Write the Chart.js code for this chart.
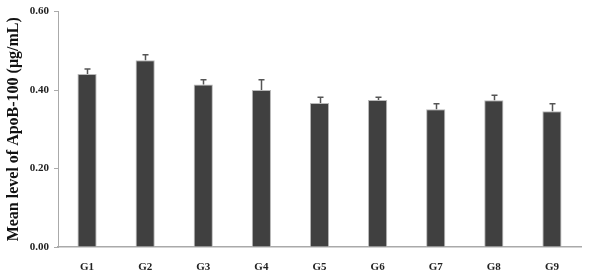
<!DOCTYPE html>
<html>
<head>
<meta charset="utf-8">
<script src="https://cdn.jsdelivr.net/npm/chart.js@4/dist/chart.umd.min.js"></script>
<style>
  html, body { margin: 0; padding: 0; background: #fff; }
  #wrap { width: 594px; height: 275px; }
</style>
</head>
<body>
<div id="wrap"><canvas id="myChart"></canvas></div>
<script>
var groups = ["G1", "G2", "G3", "G4", "G5", "G6", "G7", "G8", "G9"]
var meanLevel = [0.441, 0.476, 0.414, 0.400, 0.367, 0.375, 0.351, 0.374, 0.346]
var errUpper = [0.013, 0.014, 0.012, 0.026, 0.015, 0.007, 0.014, 0.013, 0.019]
var yTicks = [0, 0.2, 0.4, 0.6]

// draw the upper error bars with a small cap
var errorBars = {
    id: "errorBars",
    afterDatasetsDraw: function(chart) {
        var ctx = chart.ctx
        var meta = chart.getDatasetMeta(0)
        var y = chart.scales.y
        ctx.save()
        ctx.strokeStyle = "#555"
        ctx.lineWidth = 1.5
        meta.data.forEach(function(bar, i) {
            var x = Math.round(bar.x) + 0.5
            var top = y.getPixelForValue(meanLevel[i] + errUpper[i])
            ctx.beginPath()
            ctx.moveTo(x, bar.y)
            ctx.lineTo(x, top)
            ctx.moveTo(x - 3, top)
            ctx.lineTo(x + 3, top)
            ctx.stroke()
        })
        ctx.restore()
    }
}

var ctx = document.getElementById('myChart').getContext('2d');
var myChart = new Chart(ctx, {
    type: 'bar',
    data: {
        labels: groups,
        datasets: [{
            data: meanLevel,
            backgroundColor: '#404040',
            borderColor: '#b8b8b8',
            borderWidth: 1,
            categoryPercentage: 1,
            barPercentage: 0.33
        }]
    },
    options: {
        responsive: true,
        maintainAspectRatio: false,
        animation: false,
        layout: { padding: { top: 10, right: 13, left: 4, bottom: 0 } },
        scales: {
            y: {
                min: 0,
                max: 0.6,
                afterFit: function(s) { s.width = 54 },
                afterBuildTicks: function(s) {
                    s.ticks = yTicks.map(function(v) { return { value: v } })
                },
                border: { color: '#aaa', width: 1 },
                grid: { drawOnChartArea: false, tickLength: 4, color: '#aaa' },
                ticks: {
                    padding: 5,
                    color: '#222',
                    font: { family: 'Liberation Serif', weight: 'bold', size: 11 },
                    callback: function(v) { return v.toFixed(2) }
                },
                title: {
                    display: true,
                    text: 'Mean level of ApoB-100 (μg/mL)',
                    color: '#111',
                    padding: { top: 0, bottom: 2 },
                    font: { family: 'Liberation Serif', weight: 'bold', size: 16 }
                }
            },
            x: {
                afterFit: function(s) { s.height = 28 },
                border: { color: '#aaa', width: 1.5 },
                grid: { display: false },
                ticks: {
                    padding: 6,
                    color: '#222',
                    font: { family: 'Liberation Serif', weight: 'bold', size: 11 }
                }
            }
        },
        plugins: {
            legend: { display: false },
            tooltip: { enabled: false }
        }
    },
    plugins: [errorBars]
});
</script>
</body>
</html>
